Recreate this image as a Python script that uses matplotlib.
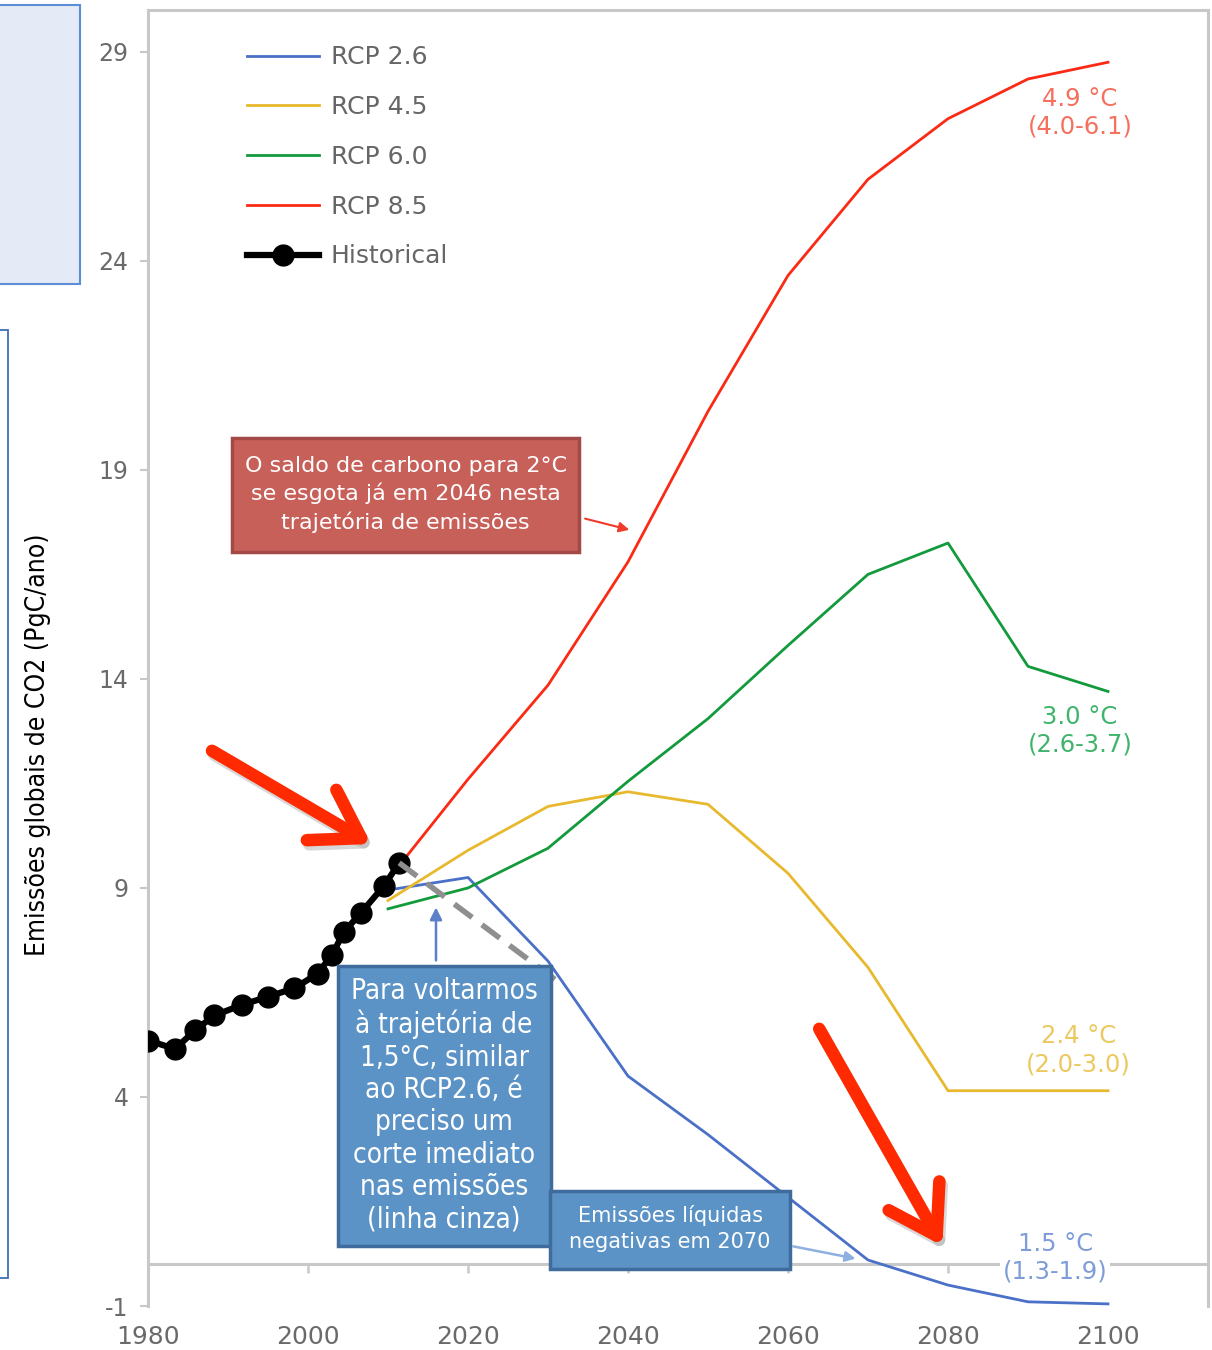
import matplotlib.pyplot as plt
from matplotlib import font_manager
from matplotlib.patches import Rectangle

plt.rcParams["axes.unicode_minus"] = False

# historical emissions (black dots)
hist_years = [1980, 1983.4, 1985.9, 1988.3, 1991.7, 1995, 1998.3, 2001.2, 2003, 2004.5, 2006.6, 2009.5, 2011.4]
hist_vals = [5.35, 5.15, 5.6, 5.95, 6.2, 6.4, 6.6, 6.95, 7.4, 7.95, 8.4, 9.05, 9.6]

# RCP scenarios
rcp_years = [2010, 2020, 2030, 2040, 2050, 2060, 2070, 2080, 2090, 2100]
rcp26 = [8.95, 9.25, 7.25, 4.5, 3.1, 1.6, 0.1, -0.5, -0.9, -0.95]
rcp45 = [8.7, 9.9, 10.95, 11.3, 11.0, 9.35, 7.1, 4.15, 4.15, 4.15]
rcp60 = [8.5, 9.0, 9.95, 11.55, 13.05, 14.8, 16.5, 17.25, 14.3, 13.7]
rcp85 = [9.2, 11.6, 13.85, 16.8, 20.4, 23.65, 25.95, 27.4, 28.35, 28.75]

# immediate cut path (grey dashed)
cut_years = [2011.4, 2032]
cut_vals = [9.6, 6.65]

scenario_names = ["RCP 2.6", "RCP 4.5", "RCP 6.0", "RCP 8.5"]
scenario_colors = ["#4a70c8", "#e8b92e", "#129a3c", "#fa2a14"]
warming_labels = ["1.5 °C\n(1.3-1.9)", "2.4 °C\n(2.0-3.0)", "3.0 °C\n(2.6-3.7)", "4.9 °C\n(4.0-6.1)"]
label_colors = ["#7d9cd8", "#ecc85e", "#3fb46b", "#f5705e"]

yticks = [-1, 4, 9, 14, 19, 24, 29]
xticks = [1980, 2000, 2020, 2040, 2060, 2080, 2100]


def narrow_font():
    # look for a condensed face, the callouts use one
    fonts = font_manager.fontManager.ttflist
    for f in fonts:
        if f.name == "Liberation Sans Narrow" and f.weight in (400, "normal") and f.style == "normal":
            return font_manager.FontProperties(fname=f.fname)
    for f in fonts:
        if f.name == "DejaVu Sans" and "Condensed" in f.fname and "Bold" not in f.fname and "Oblique" not in f.fname:
            return font_manager.FontProperties(fname=f.fname)
    return font_manager.FontProperties(family="DejaVu Sans")


nf = narrow_font()

fig = plt.figure(figsize=(12.12, 13.5), dpi=100)
ax = fig.add_axes([148 / 1212, 44 / 1350, 1060 / 1212, 1296 / 1350])
ax.set_xlim(1980, 2112.5)
ax.set_ylim(-1, 30)

frame = "#c8c8c8"
for side in ["left", "top", "right"]:
    ax.spines[side].set_color(frame)
    ax.spines[side].set_linewidth(2.2)
ax.spines["bottom"].set_visible(False)

ax.set_yticks(yticks)
ax.tick_params(axis="y", length=6, width=1.5, color=frame, labelsize=17, labelcolor="#6a6a6a", pad=8)
ax.set_xticks(xticks)
ax.tick_params(axis="x", length=0, labelsize=18, labelcolor="#6a6a6a", pad=14)

# zero line with decade ticks hanging below it
ax.axhline(0, color=frame, lw=2.2, zorder=1)
ax.vlines(xticks[1:], -0.22, 0, color=frame, lw=1.8, zorder=1)

series = [rcp26, rcp45, rcp60, rcp85]
for vals, name, col in zip(series, scenario_names, scenario_colors):
    ax.plot(rcp_years, vals, color=col, lw=2, label=name, zorder=3)

ax.plot(hist_years, hist_vals, color="black", lw=4.5, marker="o", ms=15, label="Historical", zorder=5)
ax.plot(cut_years, cut_vals, color="#8f8f8f", lw=4, ls=(0, (4, 2.2)), zorder=6)

# warming labels at line ends
label_pos = [(2093.4, 0.15), (2096.3, 5.12), (2096.5, 12.76), (2096.5, 27.54)]
for i, ((x, y), txt, col) in enumerate(zip(label_pos, warming_labels, label_colors)):
    t = ax.text(x, y, txt, color=col, fontsize=17.5, ha="center", va="center", linespacing=1.2, zorder=7)
    if i == 0:
        t.set_bbox(dict(fc="white", ec="none", pad=2))

leg = ax.legend(loc="upper left", bbox_to_anchor=(0.072, 0.99), frameon=False, fontsize=18,
                handlelength=2.9, handletextpad=0.45, labelspacing=1.03)
for txt in leg.get_texts():
    txt.set_color("#666666")

# red callout
ax.add_patch(Rectangle((1990.5, 17.04), 43.4, 2.73, fc="#c8605a", ec="#a44a46", lw=2.5, zorder=8))
ax.text(2012.2, 18.42, "O saldo de carbono para 2°C\nse esgota já em 2046 nesta\ntrajetória de emissões",
        color="white", fontsize=16, ha="center", va="center", linespacing=1.4, zorder=9)
ax.annotate("", xy=(2040.5, 17.55), xytext=(2034.3, 17.85),
            arrowprops=dict(arrowstyle="-|>", color="#f03a2a", lw=1.5, mutation_scale=15), zorder=9)

# blue callouts
ax.add_patch(Rectangle((2003.75, 0.44), 26.65, 6.69, fc="#5b93c6", ec="#3f6c9c", lw=2.5, zorder=8))
ax.text(2017, 3.8, "Para voltarmos\nà trajetória de\n1,5°C, similar\nao RCP2.6, é\npreciso um\ncorte imediato\nnas emissões\n(linha cinza)",
        color="white", fontproperties=nf, fontsize=20, ha="center", va="center", linespacing=1.2, zorder=9)
ax.annotate("", xy=(2016, 8.6), xytext=(2016, 7.2),
            arrowprops=dict(arrowstyle="-|>", color="#5b80c8", lw=1.8, mutation_scale=18), zorder=9)

ax.add_patch(Rectangle((2030.25, -0.11), 30.0, 1.86, fc="#5b93c6", ec="#3f6c9c", lw=2.5, zorder=8))
ax.text(2045.25, 0.86, "Emissões líquidas\nnegativas em 2070", color="white", fontsize=15,
        ha="center", va="center", linespacing=1.4, zorder=9)
ax.annotate("", xy=(2068.8, 0.12), xytext=(2060.3, 0.44),
            arrowprops=dict(arrowstyle="-|>", color="#8eb0e0", lw=1.8, mutation_scale=15), zorder=9)

# big red arrows
big = "->, head_length=0.55, head_width=0.35"
for tail, head in [((1988, 12.28), (2007.9, 10.05)), ((2063.9, 5.63), (2079.3, 0.44))]:
    ax.annotate("", xy=(head[0] + 0.3, head[1] - 0.1), xytext=(tail[0] + 0.3, tail[1] - 0.1),
                arrowprops=dict(arrowstyle=big, color="#aaaaaa", alpha=0.45, lw=9, mutation_scale=60,
                                capstyle="round", joinstyle="round", shrinkA=0, shrinkB=0), zorder=9)
    ax.annotate("", xy=head, xytext=tail,
                arrowprops=dict(arrowstyle=big, color="#ff2a00", lw=9, mutation_scale=60,
                                capstyle="round", joinstyle="round", shrinkA=0, shrinkB=0), zorder=10)

# y label
fig.text(38 / 1212, 1 - 745 / 1350, "Emissões globais de CO2 (PgC/ano)", rotation=90, ha="center", va="center",
         fontproperties=nf, fontsize=19, color="black")

# cropped boxes on the left edge
fig.patches.append(Rectangle((-0.01, 1 - 284 / 1350), 92 / 1212, 279 / 1350, transform=fig.transFigure,
                             fc="#e4ebf6", ec="#5b8ed6", lw=1.5, figure=fig))
fig.patches.append(Rectangle((-0.01, 1 - 1278 / 1350), 20 / 1212, 948 / 1350, transform=fig.transFigure,
                             fc="white", ec="#3d6fb5", lw=1.3, figure=fig))

fig.savefig("out.png", dpi=100)
